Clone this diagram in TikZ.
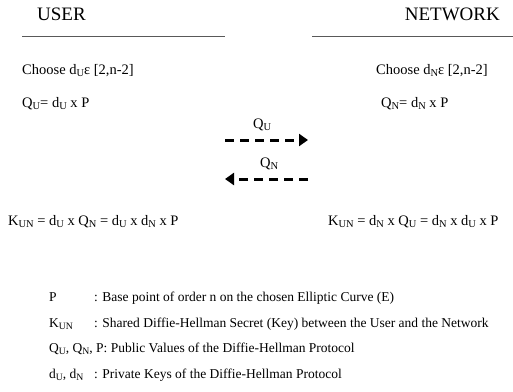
\documentclass[tikz,border=0pt]{standalone}
\usepackage{fontspec}
\setmainfont{Liberation Serif}
\usetikzlibrary{arrows.meta}
\newcommand{\sbs}[1]{\raisebox{-0.45ex}{\scalebox{0.72}{#1}}}
\tikzset{
  head/.style={inner sep=0pt, font=\fontsize{19}{21}\selectfont},
  body/.style={inner sep=0pt, font=\fontsize{14.5}{16}\selectfont},
  legend/.style={inner sep=0pt, font=\fontsize{13.5}{15}\selectfont},
  rule/.style={draw=black!65, line width=0.9pt},
  msg/.style={line width=3pt, dash pattern=on 9pt off 6pt, -{Triangle[length=9pt,width=12pt]}}
}
\begin{document}
\begin{tikzpicture}[x=1pt,y=-1pt]
\useasboundingbox (0,0) rectangle (513,391);
% headers
\node[head, anchor=base west] (user) at (37,20) {USER};
\node[head, anchor=base east] (net) at (500,20) {NETWORK};
\coordinate (ul1) at (22,36); \coordinate (ul2) at (225,36);
\coordinate (nl1) at (312,36); \coordinate (nl2) at (513,36);
\draw[rule] (ul1) -- (ul2);
\draw[rule] (nl1) -- (nl2);
% user side
\node[body, anchor=base west] (uchoose) at (22,74) {Choose d\sbs{U}ε [2,n-2]};
\node[body, anchor=base west] (uq) at (22,107) {Q\sbs{U}= d\sbs{U} x P};
% network side
\node[body, anchor=base west] (nchoose) at (376,74) {Choose d\sbs{N}ε [2,n-2]};
\node[body, anchor=base west] (nq) at (381,107) {Q\sbs{N}= d\sbs{N} x P};
% messages
\node[body, anchor=base west] (lqu) at (253,128) {Q\sbs{U}};
\node[body, anchor=base west] (lqn) at (260,167) {Q\sbs{N}};
\coordinate (a1s) at (225,140); \coordinate (a1e) at (308,140);
\coordinate (a2s) at (308,179); \coordinate (a2e) at (225,179);
\draw[msg] (a1s) -- (a1e);
\draw[msg] (a2s) -- (a2e);
% keys
\node[body, anchor=base west] (uk) at (8,225) {K\sbs{UN} = d\sbs{U} x Q\sbs{N} = d\sbs{U} x d\sbs{N} x P};
\node[body, anchor=base west] (nk) at (328,225) {K\sbs{UN} = d\sbs{N} x Q\sbs{U} = d\sbs{N} x d\sbs{U} x P};
% legend
\node[legend, anchor=base west] (l1a) at (49,301) {P};
\node[legend, anchor=base west] (l1b) at (94,301) {: Base point of order n on the chosen Elliptic Curve (E)};
\node[legend, anchor=base west] (l2a) at (49,327) {K\sbs{UN}};
\node[legend, anchor=base west] (l2b) at (94,327) {: Shared Diffie-Hellman Secret (Key) between the User and the Network};
\node[legend, anchor=base west] (l3) at (49,352) {Q\sbs{U}, Q\sbs{N}, P: Public Values of the Diffie-Hellman Protocol};
\node[legend, anchor=base west] (l4a) at (49,378) {d\sbs{U}, d\sbs{N}};
\node[legend, anchor=base west] (l4b) at (94,378) {: Private Keys of the Diffie-Hellman Protocol};
\end{tikzpicture}
\end{document}
